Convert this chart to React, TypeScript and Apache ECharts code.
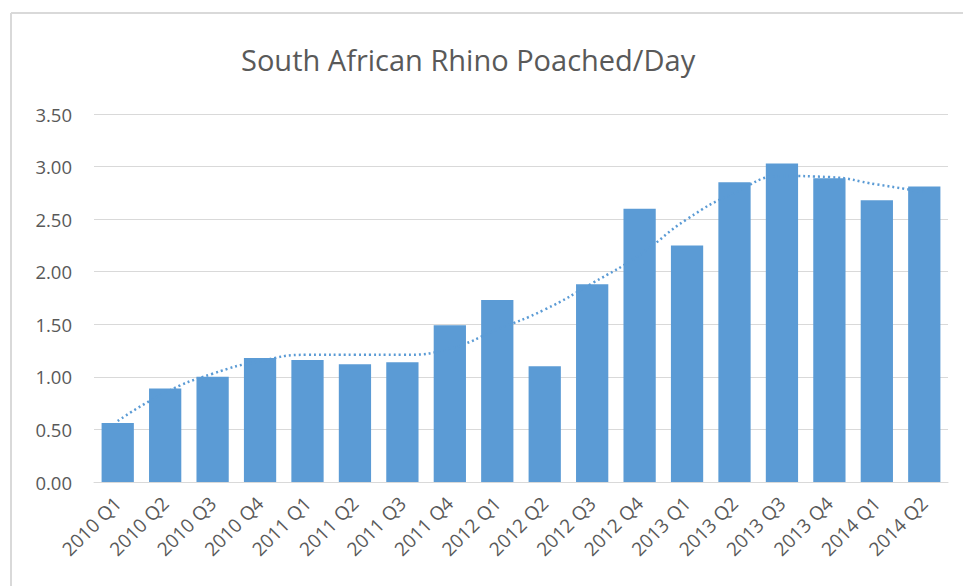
import React, { useEffect, useRef } from "react";
import * as echarts from "echarts";

const categories = [
  "2010 Q1", "2010 Q2", "2010 Q3", "2010 Q4",
  "2011 Q1", "2011 Q2", "2011 Q3", "2011 Q4",
  "2012 Q1", "2012 Q2", "2012 Q3", "2012 Q4",
  "2013 Q1", "2013 Q2", "2013 Q3", "2013 Q4",
  "2014 Q1", "2014 Q2",
];
const poachedPerDay = [
  0.56, 0.89, 1.0, 1.18, 1.16, 1.12, 1.14, 1.49, 1.73,
  1.1, 1.88, 2.6, 2.25, 2.85, 3.03, 2.89, 2.68, 2.81,
];
const trend = [
  0.58, 0.85, 1.03, 1.15, 1.21, 1.21, 1.21, 1.27, 1.45,
  1.64, 1.89, 2.16, 2.5, 2.75, 2.91, 2.9, 2.83, 2.76,
];
const yTicks = { min: 0, max: 3.5, interval: 0.5 };

export default function App() {
  const ref = useRef<HTMLDivElement>(null);
  useEffect(() => {
    if (!ref.current) return;
    const chart = echarts.init(ref.current, undefined, { renderer: "svg" });
    const font = "'Open Sans', 'Noto Sans', sans-serif";
    chart.setOption({
      animation: false,
      backgroundColor: "#ffffff",
      title: {
        text: "South African Rhino Poached/Day",
        left: 236,
        top: 40,
        textStyle: { fontFamily: font, fontSize: 29, fontWeight: "normal", color: "#595959" },
      },
      graphic: [
        { type: "line", shape: { x1: 11, y1: 13, x2: 963, y2: 13 }, style: { stroke: "#d9d9d9", lineWidth: 2 } },
        { type: "line", shape: { x1: 11, y1: 13, x2: 11, y2: 586 }, style: { stroke: "#d9d9d9", lineWidth: 2 } },
      ],
      grid: { left: 94, right: 15, top: 114, bottom: 104, containLabel: false },
      xAxis: {
        type: "category",
        data: categories,
        axisTick: { show: false },
        axisLine: { lineStyle: { color: "#d9d9d9", width: 1 } },
        axisLabel: {
          rotate: 45,
          interval: 0,
          margin: 18,
          fontFamily: font,
          fontSize: 19,
          color: "#595959",
        },
      },
      yAxis: {
        type: "value",
        min: yTicks.min,
        max: yTicks.max,
        interval: yTicks.interval,
        axisLine: { show: false },
        axisTick: { show: false },
        splitLine: { lineStyle: { color: "#d9d9d9", width: 1 } },
        axisLabel: {
          formatter: (v: number) => v.toFixed(2),
          margin: 22,
          fontFamily: font,
          fontSize: 18.5,
          color: "#595959",
        },
      },
      series: [
        {
          type: "bar",
          data: poachedPerDay,
          barCategoryGap: "32%",
          itemStyle: { color: "#5B9BD5" },
        },
        {
          type: "line",
          data: trend,
          smooth: true,
          symbol: "none",
          lineStyle: { color: "#5B9BD5", width: 2.5, type: [2, 3] },
          z: 5,
        },
      ],
    });
    return () => chart.dispose();
  }, []);
  return (
    <div
      ref={ref}
      style={{ position: "absolute", left: 0, top: 0, width: 963, height: 586 }}
    />
  );
}
